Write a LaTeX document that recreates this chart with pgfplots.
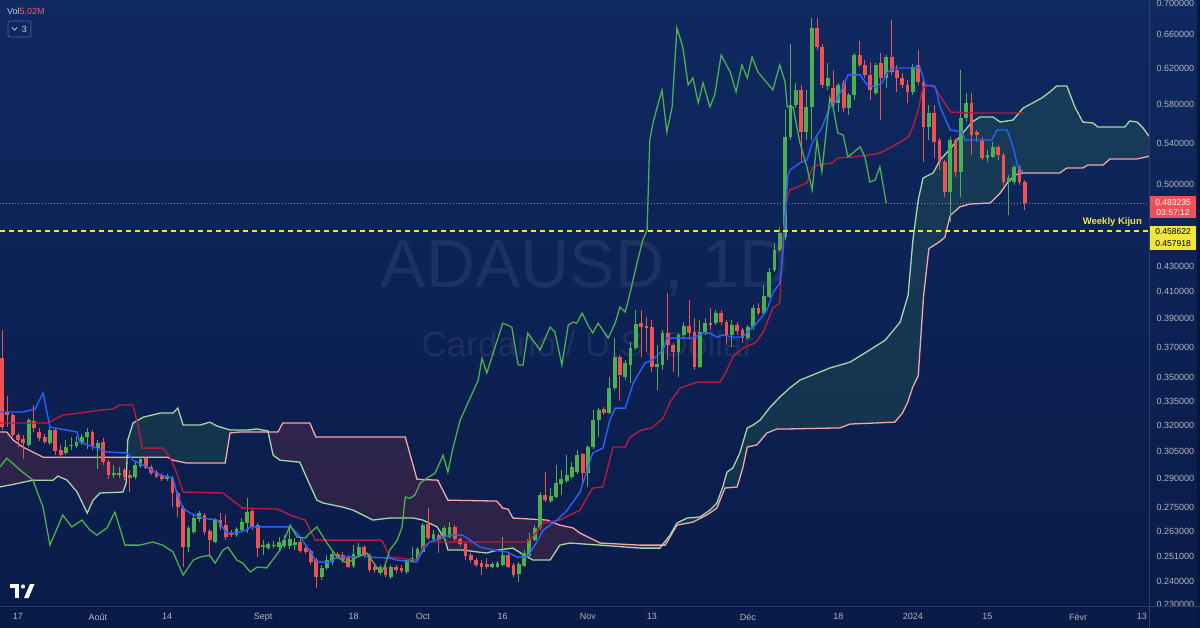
\documentclass[border=0pt]{standalone}
\usepackage{fontspec}
\setmainfont{Liberation Sans}
\usepackage{pgfplots}
\pgfplotsset{compat=1.18}
\usepackage{pgfplotstable}

\definecolor{bgtop}{RGB}{15,41,97}
\definecolor{bgbot}{RGB}{10,27,72}
\definecolor{cgreen}{RGB}{76,175,80}
\definecolor{cred}{RGB}{239,83,80}
\definecolor{tenkan}{RGB}{41,98,255}
\definecolor{kijun}{RGB}{183,28,60}
\definecolor{chikou}{RGB}{76,175,80}
\definecolor{spanA}{RGB}{165,214,167}
\definecolor{spanB}{RGB}{244,166,170}
\definecolor{cloudG}{RGB}{67,160,71}
\definecolor{cloudR}{RGB}{244,67,54}
\definecolor{ticktext}{RGB}{178,181,190}
\definecolor{wkyellow}{RGB}{242,230,60}
\definecolor{axisline}{RGB}{45,62,105}
\definecolor{pricedot}{RGB}{150,125,150}
\definecolor{labred}{RGB}{238,82,88}
\definecolor{volred}{RGB}{247,82,110}

\pgfplotstableread{
d o h l c
-3 .3627 .3820 .3175 .3192
-2 .3282 .3381 .3192 .3264
-1 .3264 .3276 .3134 .3146
0 .3146 .3157 .3076 .3116
1 .3122 .3146 .3008 .3099
2 .3088 .3245 .3076 .3233
3 .3227 .3325 .3163 .3187
4 .3163 .3187 .3110 .3128
5 .3134 .3151 .3093 .3105
6 .3099 .3187 .3088 .3175
7 .3175 .3187 .3030 .3053
8 .3059 .3088 .3013 .3030
9 .3042 .3116 .3030 .3076
10 .3082 .3134 .3059 .3088
11 .3082 .3140 .3070 .3105
12 .3099 .3151 .3088 .3134
13 .3134 .3187 .3065 .3163
14 .3163 .3175 .3059 .3076
15 .3070 .3116 .2953 .3099
16 .3105 .3128 .2975 .2991
17 .2991 .3002 .2898 .2920
18 .2920 .2975 .2904 .2931
19 .2920 .2964 .2904 .2931
20 .2948 .2959 .2893 .2909
21 .2920 .2948 .2830 .2904
22 .2909 .2991 .2898 .2975
23 .2970 .3019 .2959 .3008
24 .3013 .3019 .2953 .2959
25 .2964 .2975 .2920 .2931
26 .2937 .2948 .2904 .2909
27 .2920 .2931 .2888 .2898
28 .2898 .2926 .2888 .2915
29 .2904 .2915 .2752 .2825
30 .2825 .2836 .2702 .2752
31 .2747 .2757 .2463 .2556
32 .2556 .2658 .2533 .2648
33 .2628 .2712 .2618 .2697
34 .2692 .2732 .2677 .2722
35 .2712 .2722 .2613 .2628
36 .2633 .2643 .2509 .2589
37 .2580 .2697 .2575 .2687
38 .2687 .2722 .2638 .2653
39 .2662 .2712 .2589 .2604
40 .2618 .2638 .2604 .2613
41 .2613 .2653 .2604 .2643
42 .2638 .2697 .2628 .2677
43 .2672 .2798 .2623 .2727
44 .2732 .2742 .2638 .2653
45 .2662 .2672 .2509 .2551
46 .2556 .2589 .2518 .2565
47 .2551 .2580 .2542 .2570
48 .2561 .2584 .2551 .2565
49 .2556 .2604 .2542 .2580
50 .2561 .2613 .2551 .2589
51 .2561 .2648 .2547 .2594
52 .2565 .2599 .2542 .2580
53 .2580 .2599 .2528 .2537
54 .2551 .2561 .2523 .2533
55 .2537 .2547 .2472 .2486
56 .2495 .2504 .2370 .2418
57 .2418 .2472 .2404 .2459
58 .2459 .2518 .2450 .2495
59 .2486 .2542 .2472 .2523
60 .2523 .2533 .2500 .2509
61 .2518 .2533 .2481 .2495
62 .2509 .2518 .2459 .2463
63 .2468 .2565 .2459 .2523
64 .2518 .2575 .2509 .2556
65 .2556 .2565 .2504 .2514
66 .2518 .2528 .2441 .2450
67 .2463 .2472 .2436 .2450
68 .2436 .2472 .2427 .2463
69 .2463 .2472 .2418 .2427
70 .2418 .2472 .2409 .2463
71 .2463 .2472 .2436 .2450
72 .2459 .2472 .2436 .2445
73 .2441 .2504 .2431 .2495
74 .2486 .2556 .2481 .2504
75 .2495 .2556 .2486 .2547
76 .2533 .2672 .2528 .2662
77 .2667 .2747 .2589 .2599
78 .2594 .2638 .2584 .2618
79 .2613 .2623 .2528 .2589
80 .2604 .2658 .2589 .2648
81 .2604 .2677 .2599 .2653
82 .2653 .2662 .2580 .2594
83 .2594 .2604 .2561 .2570
84 .2570 .2580 .2495 .2514
85 .2518 .2528 .2481 .2495
86 .2495 .2504 .2463 .2472
87 .2481 .2495 .2427 .2463
88 .2477 .2504 .2454 .2463
89 .2463 .2486 .2459 .2477
90 .2463 .2490 .2459 .2481
91 .2472 .2604 .2468 .2518
92 .2518 .2528 .2459 .2463
93 .2472 .2481 .2418 .2427
94 .2431 .2486 .2395 .2477
95 .2468 .2542 .2463 .2528
96 .2514 .2623 .2509 .2594
97 .2589 .2662 .2584 .2648
98 .2648 .2830 .2638 .2814
99 .2814 .2937 .2778 .2788
100 .2783 .2851 .2773 .2809
101 .2804 .2975 .2798 .2877
102 .2872 .2948 .2814 .2898
103 .2888 .3030 .2877 .2920
104 .2909 .2991 .2898 .2964
105 .2937 .3059 .2926 .3030
106 .3036 .3042 .2877 .2931
107 .2931 .3088 .2857 .3076
108 .3076 .3294 .3065 .3233
109 .3233 .3306 .3134 .3294
110 .3300 .3312 .3264 .3276
111 .3276 .3502 .3270 .3432
112 .3432 .3764 .3419 .3634
113 .3634 .3647 .3349 .3515
114 .3502 .3613 .3482 .3594
115 .3581 .3736 .3463 .3696
116 .3696 .3965 .3682 .3863
117 .3870 .3965 .3634 .3842
118 .3849 .3913 .3668 .3835
119 .3842 .3891 .3535 .3568
120 .3568 .3716 .3419 .3587
121 .3581 .3820 .3548 .3799
122 .3799 .4091 .3613 .3716
123 .3716 .3730 .3535 .3668
124 .3668 .3799 .3502 .3785
125 .3785 .3877 .3764 .3849
126 .3849 .4038 .3750 .3799
127 .3806 .3906 .3548 .3568
128 .3568 .3891 .3561 .3806
129 .3806 .3906 .3785 .3870
130 .3870 .3980 .3820 .3856
131 .3870 .3965 .3856 .3943
132 .3943 .3965 .3856 .3877
133 .3877 .3891 .3716 .3785
134 .3785 .3891 .3702 .3856
135 .3856 .3877 .3785 .3813
136 .3820 .3835 .3730 .3764
137 .3764 .3856 .3750 .3842
138 .3842 .4001 .3820 .3980
139 .3980 .4016 .3928 .3943
140 .3943 .4152 .3928 .4068
141 .4061 .4285 .4053 .4253
142 .4269 .4488 .4253 .4430
143 .4430 .4623 .4414 .4572
144 .4538 .5742 .4513 .5461
145 .5461 .6489 .5431 .5796
146 .5796 .6036 .5763 .5958
147 .5958 .6014 .5215 .5513
148 .5513 .5958 .5431 .5774
149 .5774 .6808 .5431 .6684
150 .6684 .6808 .6416 .6452
151 .6452 .6489 .5980 .6014
152 .6003 .6264 .5958 .6093
153 .5980 .6183 .5763 .5796
154 .5817 .6036 .5721 .6014
155 .6036 .6070 .5721 .5763
156 .5763 .5925 .5689 .5904
157 .5904 .6381 .5849 .6357
158 .6357 .6525 .6218 .6241
159 .6241 .6299 .6093 .6127
160 .6127 .6276 .5849 .5958
161 .5925 .6264 .5904 .6241
162 .6264 .6381 .5636 .6093
163 .6093 .6357 .5980 .6334
164 .6334 .6783 .6127 .6160
165 .6183 .6241 .5936 .6093
166 .6093 .6149 .5980 .6014
167 .6014 .6070 .5817 .5936
168 .5936 .6253 .5904 .6218
169 .6241 .6416 .6014 .6048
170 .6048 .6093 .5215 .5564
171 .5564 .5796 .5431 .5710
172 .5710 .5796 .5254 .5411
173 .5431 .5451 .5138 .5215
174 .5215 .5234 .4888 .4933
175 .4933 .5461 .4666 .5431
176 .5431 .5451 .5072 .5119
177 .5119 .6183 .4888 .5657
178 .5657 .5925 .5615 .5817
179 .5817 .5925 .5283 .5482
180 .5513 .5533 .5411 .5482
181 .5431 .5461 .5234 .5254
182 .5254 .5332 .5215 .5283
183 .5263 .5411 .5254 .5362
184 .5362 .5382 .5234 .5283
185 .5283 .5303 .4997 .5025
186 .5025 .5091 .4727 .5062
187 .5025 .5186 .4997 .5167
188 .5167 .5186 .4997 .5025
189 .5025 .5043 .4771 .4832
}\candles

\pgfplotstableread{
d p
-3.4 .3282
0.9 .3282
3.2 .3300
4.7 .3400
6.0 .3192
11.1 .3163
11.6 .3105
14.8 .3070
16.7 .3048
20.5 .3042
21.6 .3002
24.2 .2964
26.7 .2920
29.1 .2904
29.8 .2825
31.0 .2747
32.3 .2722
34.7 .2697
37.4 .2687
39.2 .2623
41.1 .2623
43.0 .2638
43.6 .2653
51.1 .2653
52.4 .2623
54.3 .2556
56.1 .2486
58.6 .2486
59.9 .2509
63.6 .2509
64.8 .2518
66.1 .2509
69.8 .2504
71.1 .2495
74.9 .2486
76.0 .2542
77.3 .2580
81.1 .2613
83.5 .2613
85.4 .2580
86.7 .2556
89.2 .2542
91.8 .2533
93.7 .2509
95.6 .2509
97.4 .2580
98.6 .2638
101.2 .2687
103.1 .2737
105.5 .2830
107.9 .3042
109.8 .3070
111.1 .3233
112.1 .3306
114.0 .3306
115.5 .3463
117.7 .3594
119.0 .3613
120.1 .3647
121.1 .3682
121.8 .3764
126.7 .3764
128.6 .3799
129.9 .3799
131.2 .3771
132.3 .3785
134.2 .3771
135.9 .3771
137.0 .3806
138.7 .3870
140.6 .3965
141.7 .4091
143.0 .4167
143.6 .4406
144.5 .5072
144.9 .5138
146.8 .5205
148.1 .5234
149.1 .5401
150.9 .5554
152.4 .5774
153.7 .5849
154.9 .5992
155.8 .6127
158.1 .6127
159.4 .6014
160.9 .5992
162.2 .6036
163.1 .6149
164.3 .6206
168.4 .6206
169.3 .6218
170.3 .6014
172.2 .5992
173.1 .5774
175.0 .5533
177.2 .5513
177.8 .5431
182.8 .5431
183.8 .5533
185.7 .5533
186.8 .5362
187.7 .5167
188.9 .5110
}\tenkanT

\pgfplotstableread{
d p
-3.4 .3216
5.4 .3216
6.6 .3233
8.4 .3264
11.6 .3276
15.4 .3294
17.8 .3300
19.1 .3325
21.6 .3325
22.5 .3204
23.3 .3070
27.2 .3070
28.5 .3019
29.8 .2931
31.0 .2830
38.5 .2825
40.2 .2788
42.2 .2747
48.8 .2742
51.1 .2712
53.9 .2687
55.8 .2589
68.0 .2589
68.5 .2580
69.8 .2509
74.9 .2495
76.0 .2556
77.3 .2580
95.6 .2580
97.4 .2628
98.6 .2672
101.7 .2687
103.6 .2712
105.5 .2737
107.4 .2830
107.9 .2851
109.8 .2857
111.7 .3076
114.0 .3076
114.9 .3134
117.1 .3175
119.0 .3187
121.1 .3245
122.4 .3343
124.3 .3432
127.5 .3469
131.8 .3469
133.1 .3548
134.2 .3634
136.1 .3696
137.4 .3716
138.4 .3730
139.9 .3806
141.7 .3980
143.0 .4016
143.6 .4538
144.4 .4888
144.9 .4951
148.1 .5015
149.1 .5157
150.2 .5186
152.8 .5205
153.9 .5254
156.8 .5263
159.9 .5283
161.8 .5303
163.7 .5352
165.6 .5411
167.1 .5461
168.0 .5564
169.0 .5742
169.9 .5992
171.8 .6014
175.0 .5721
178.2 .5710
188.9 .5710
}\kijunT

\pgfplotstableread{
d p
-3.4 .2964
-2.1 .3013
0.4 .2948
2.8 .2893
4.7 .2752
6.0 .2565
8.4 .2712
10.1 .2653
12.0 .2687
13.5 .2638
14.8 .2613
16.7 .2648
18.2 .2727
20.1 .2565
22.9 .2565
25.3 .2580
27.2 .2565
29.1 .2533
31.0 .2427
32.9 .2495
34.2 .2509
36.0 .2518
37.0 .2481
38.5 .2542
39.4 .2556
41.1 .2495
42.2 .2481
43.6 .2441
44.9 .2463
46.7 .2459
49.2 .2542
50.5 .2623
51.1 .2662
52.4 .2604
53.9 .2599
54.8 .2623
56.1 .2653
58.0 .2575
59.9 .2509
61.8 .2481
63.6 .2509
65.5 .2528
67.4 .2459
68.3 .2441
68.9 .2472
69.8 .2542
71.2 .2589
72.1 .2653
72.7 .2804
73.6 .2798
74.5 .2814
75.5 .2877
76.8 .2904
78.3 .2931
79.8 .3030
80.7 .2937
81.7 .3076
83.0 .3233
86.4 .3482
87.1 .3627
88.0 .3528
89.2 .3661
91.0 .3870
92.7 .3842
93.9 .3581
94.8 .3581
95.7 .3799
98.0 .3682
99.9 .3842
100.8 .3806
102.1 .3581
103.3 .3856
104.2 .3877
104.9 .3870
105.9 .3943
107.0 .3856
107.9 .3799
108.9 .3870
110.8 .3764
112.1 .3870
113.0 .3987
114.0 .3950
114.9 .4091
116.2 .4325
117.3 .4513
118.1 .4598
118.6 .5431
119.2 .5605
120.0 .5774
120.9 .5958
121.8 .5513
122.8 .5774
123.7 .6684
124.8 .6452
125.8 .6014
126.7 .6093
127.7 .5817
128.6 .6036
129.9 .5774
130.8 .5904
132.0 .6357
133.7 .6160
134.8 .5936
135.9 .6241
136.9 .6093
137.8 .6334
138.9 .6160
141.7 .5958
143.0 .6241
144.0 .6048
144.4 .5774
145.5 .5774
146.8 .5401
148.1 .5167
149.1 .4951
150.0 .5431
150.9 .5119
152.4 .5871
153.0 .5774
153.9 .5503
154.9 .5482
155.8 .5263
158.1 .5362
159.0 .5263
159.9 .5025
160.9 .5043
161.8 .5167
163.0 .4832
}\chikouT

\pgfplotstableread{
d p
-3.4 .2857
-1.5 .2867
2.8 .2893
6.6 .2893
7.5 .2915
9.2 .2893
11.1 .2830
13.0 .2722
14.1 .2788
15.4 .2825
19.7 .2830
20.3 .2877
20.6 .3116
21.6 .3216
23.5 .3251
26.7 .3276
29.1 .3276
30.0 .3306
31.0 .3204
34.2 .3204
36.0 .3221
37.4 .3198
39.8 .3175
43.2 .3175
44.9 .3181
45.8 .3175
46.9 .3170
47.9 .3030
49.2 .3002
52.9 .2991
54.4 .2893
56.1 .2788
57.3 .2773
61.0 .2752
62.9 .2737
65.5 .2702
66.6 .2687
69.8 .2697
74.2 .2697
76.0 .2687
78.7 .2653
80.2 .2589
80.7 .2542
83.5 .2542
86.2 .2533
88.0 .2528
90.1 .2542
92.9 .2551
95.6 .2509
96.7 .2495
99.9 .2495
101.7 .2565
103.6 .2575
109.3 .2565
116.8 .2551
120.5 .2551
122.4 .2613
123.7 .2672
125.6 .2697
128.0 .2702
129.9 .2737
131.2 .2773
132.3 .2857
133.1 .2937
134.2 .2959
135.5 .3042
136.9 .3187
138.0 .3204
139.3 .3233
141.2 .3312
143.0 .3374
144.9 .3432
146.8 .3482
152.4 .3561
156.2 .3600
159.9 .3682
162.8 .3750
165.6 .3877
167.1 .4076
168.0 .4513
169.0 .4860
169.9 .5062
171.8 .5110
173.1 .5234
175.0 .5342
177.2 .5492
179.1 .5615
180.6 .5668
183.0 .5668
184.4 .5615
186.8 .5636
188.7 .5763
190.5 .5817
192.2 .5871
193.7 .5936
195.0 .6003
196.9 .6003
198.4 .5774
199.9 .5615
201.8 .5605
202.7 .5564
207.8 .5564
208.7 .5626
210.1 .5615
211.2 .5554
212.3 .5470
}\spanAT

\pgfplotstableread{
d p
-3.4 .3163
-2.1 .3163
-0.9 .3116
0.9 .3076
4.7 .3019
28.0 .3019
29.1 .3002
31.7 .2986
38.9 .2986
39.8 .3157
41.7 .3163
48.8 .3163
49.7 .3216
54.8 .3216
55.9 .3134
72.7 .3134
74.9 .2898
78.8 .2893
80.7 .2788
89.9 .2783
91.0 .2747
92.0 .2742
92.9 .2697
99.3 .2687
101.7 .2662
104.2 .2648
105.5 .2623
109.3 .2575
116.8 .2565
121.5 .2565
123.7 .2662
126.7 .2677
129.3 .2712
131.2 .2747
132.7 .2851
135.0 .2857
136.1 .2964
136.9 .3076
138.7 .3088
140.6 .3157
142.5 .3181
144.9 .3181
154.3 .3187
156.2 .3210
164.6 .3221
166.0 .3274
167.0 .3340
168.0 .3440
169.0 .3510
170.0 .4069
171.0 .4442
173.0 .4499
174.0 .4536
175.0 .4723
176.8 .4798
178.7 .4824
182.5 .4833
184.4 .4924
185.7 .5015
187.2 .5091
188.7 .5110
195.6 .5110
196.9 .5157
199.9 .5157
200.9 .5186
203.7 .5186
205.0 .5244
210.1 .5244
212.3 .5270
}\spanBT

% build candle wick/body coordinate lists from the OHLC table
\gdef\wickG{}\gdef\wickR{}\gdef\bodyG{}\gdef\bodyR{}
\pgfplotstablegetrowsof{\candles}
\pgfmathtruncatemacro\lastrow{\pgfplotsretval-1}
\foreach \i in {0,...,\lastrow}{%
  \pgfplotstablegetelem{\i}{d}\of\candles\let\cD\pgfplotsretval
  \pgfplotstablegetelem{\i}{o}\of\candles\let\cO\pgfplotsretval
  \pgfplotstablegetelem{\i}{h}\of\candles\let\cH\pgfplotsretval
  \pgfplotstablegetelem{\i}{l}\of\candles\let\cL\pgfplotsretval
  \pgfplotstablegetelem{\i}{c}\of\candles\let\cC\pgfplotsretval
  \pgfmathtruncatemacro\up{\cC>=\cO ? 1 : 0}%
  \ifnum\up=1
    \xdef\wickG{\wickG (\cD,\cL) (\cD,\cH) (\cD,nan)}%
    \xdef\bodyG{\bodyG (\cD,\cO) (\cD,\cC) (\cD,nan)}%
  \else
    \xdef\wickR{\wickR (\cD,\cL) (\cD,\cH) (\cD,nan)}%
    \xdef\bodyR{\bodyR (\cD,\cO) (\cD,\cC) (\cD,nan)}%
  \fi
}

\begin{document}
\begin{tikzpicture}
\shade[top color=bgtop, bottom color=bgbot] (0pt,0pt) rectangle (1200pt,627pt);
\fill[bgbot!80!black] (1197pt,0pt) rectangle (1200pt,627pt);
\begin{scope}[x=1pt,y=1pt]
  \node[text=white, text opacity=0.07, font=\fontsize{68}{70}\selectfont, inner sep=0pt] at (585,359) {ADAUSD, 1D};
  \node[text=white, text opacity=0.07, font=\fontsize{35}{38}\selectfont, inner sep=0pt] at (588,283) {Cardano / U.S. Dollar};
\end{scope}
\begin{axis}[
  at={(0pt,20pt)}, anchor=south west,
  scale only axis, width=1149pt, height=607pt,
  xmin=-3.379, xmax=212.32,
  ymode=log, ymin=0.22874, ymax=0.7039,
  axis line style={draw=none},
  tick style={draw=none},
  major tick length=0pt,
  xtick={0,15,28,46,63,76,91,107,119,137,154,168,182,199,211},
  xticklabels={17,Août,14,Sept,18,Oct,16,Nov,13,Déc,18,2024,15,Févr,13},
  ytick={0.23,0.24,0.251,0.263,0.275,0.29,0.305,0.32,0.335,0.35,0.37,0.39,0.41,0.43,0.50,0.54,0.58,0.62,0.66,0.70},
  yticklabels={0.230000,0.240000,0.251000,0.263000,0.275000,0.290000,0.305000,0.320000,0.335000,0.350000,0.370000,0.390000,0.410000,0.430000,0.500000,0.540000,0.580000,0.620000,0.660000,0.700000},
  yticklabel pos=right,
  ticklabel style={font=\fontsize{9}{11}\selectfont, text=ticktext},
  yticklabel style={anchor=west, xshift=4pt},
  xticklabel style={anchor=north, yshift=-3pt},
  /pgf/number format/assume math mode=true,
]
% Ichimoku cloud: areas between Senkou A and Senkou B (bearish red, bullish green)
\addplot[fill=cloudR, fill opacity=0.15, draw=none] coordinates {
(-3.4,.2857) (-1.5,.2867) (2.8,.2893) (6.6,.2893) (7.5,.2915) (9.2,.2893) (11.1,.2830) (13.0,.2722) (14.1,.2788) (15.4,.2825) (19.7,.2830) (20.3,.2877) (20.48,.3019) (4.7,.3019) (0.9,.3076) (-0.9,.3116) (-2.1,.3163) (-3.4,.3163)};
\addplot[fill=cloudG, fill opacity=0.17, draw=none] coordinates {
(20.48,.3019) (20.6,.3116) (21.6,.3216) (23.5,.3251) (26.7,.3276) (29.1,.3276) (30.0,.3306) (31.0,.3204) (34.2,.3204) (36.0,.3221) (37.4,.3198) (39.8,.3175) (43.2,.3175) (44.9,.3181) (45.8,.3175) (46.9,.3170) (46.95,.3163) (41.7,.3163) (39.8,.3157) (38.9,.2986) (31.7,.2986) (29.1,.3002) (28.0,.3019)};
\addplot[fill=cloudR, fill opacity=0.15, draw=none] coordinates {
(46.95,.3163) (48.8,.3163) (49.7,.3216) (54.8,.3216) (55.9,.3134) (72.7,.3134) (74.9,.2898) (78.8,.2893) (80.7,.2788) (89.9,.2783) (91.0,.2747) (92.0,.2742) (92.9,.2697) (99.3,.2687) (101.7,.2662) (104.2,.2648) (105.5,.2623) (109.3,.2575) (116.8,.2565) (120.93,.2565) (120.5,.2551) (116.8,.2551) (109.3,.2565) (103.6,.2575) (101.7,.2565) (99.9,.2495) (96.7,.2495) (95.6,.2509) (92.9,.2551) (90.1,.2542) (88.0,.2528) (86.2,.2533) (83.5,.2542) (80.7,.2542) (80.2,.2589) (78.7,.2653) (76.0,.2687) (74.2,.2697) (69.8,.2697) (66.6,.2687) (65.5,.2702) (62.9,.2737) (61.0,.2752) (57.3,.2773) (56.1,.2788) (54.4,.2893) (52.9,.2991) (49.2,.3002) (47.9,.3030)};
\addplot[fill=cloudG, fill opacity=0.17, draw=none] coordinates {
(120.93,.2565) (122.4,.2613) (123.7,.2672) (125.6,.2697) (128.0,.2702) (129.9,.2737) (131.2,.2773) (132.3,.2857) (133.1,.2937) (134.2,.2959) (135.5,.3042) (136.9,.3187) (138.0,.3204) (139.3,.3233) (141.2,.3312) (143.0,.3374) (144.9,.3432) (146.8,.3482) (152.4,.3561) (156.2,.3600) (159.9,.3682) (162.8,.3750) (165.6,.3877) (167.1,.4076) (168.0,.4513) (169.0,.4860) (169.9,.5062) (171.8,.5110) (173.1,.5234) (175.0,.5342) (177.2,.5492) (179.1,.5615) (180.6,.5668) (183.0,.5668) (184.4,.5615) (186.8,.5636) (188.7,.5763) (190.5,.5817) (192.2,.5871) (193.7,.5936) (195.0,.6003) (196.9,.6003) (198.4,.5774) (199.9,.5615) (201.8,.5605) (202.7,.5564) (207.8,.5564) (208.7,.5626) (210.1,.5615) (211.2,.5554) (212.3,.5470)
(212.3,.5270) (210.1,.5244) (205.0,.5244) (203.7,.5186) (200.9,.5186) (199.9,.5157) (196.9,.5157) (195.6,.5110) (188.7,.5110) (187.2,.5091) (185.7,.5015) (184.4,.4924) (182.5,.4833) (178.7,.4824) (176.8,.4798) (175.0,.4723) (174.0,.4536) (173.0,.4499) (171.0,.4442) (170.0,.4069) (169.0,.3510) (168.0,.3440) (167.0,.3340) (166.0,.3274) (164.6,.3221) (156.2,.3210) (154.3,.3187) (144.9,.3181) (142.5,.3181) (140.6,.3157) (138.7,.3088) (136.9,.3076) (136.1,.2964) (135.0,.2857) (132.7,.2851) (131.2,.2747) (129.3,.2712) (126.7,.2677) (123.7,.2662) (121.5,.2565)};
% current price dotted line
\addplot[pricedot, line width=0.8pt, dash pattern=on 1pt off 2pt] coordinates {(-3.379,0.483235) (212.32,0.483235)};
% senkou spans
\addplot[spanB, line width=1.3pt] table[x=d, y=p] {\spanBT};
\addplot[spanA, line width=1.3pt] table[x=d, y=p] {\spanAT};
% candles
\edef\tmp{\noexpand\addplot[cgreen, line width=1pt, unbounded coords=jump] coordinates {\wickG};}\tmp
\edef\tmp{\noexpand\addplot[cred, line width=1pt, unbounded coords=jump] coordinates {\wickR};}\tmp
\edef\tmp{\noexpand\addplot[cgreen, line width=3.8pt, unbounded coords=jump] coordinates {\bodyG};}\tmp
\edef\tmp{\noexpand\addplot[cred, line width=3.8pt, unbounded coords=jump] coordinates {\bodyR};}\tmp
% ichimoku lines
\addplot[kijun, line width=1.4pt] table[x=d, y=p] {\kijunT};
\addplot[tenkan, line width=1.4pt] table[x=d, y=p] {\tenkanT};
\addplot[chikou, line width=1.3pt] table[x=d, y=p] {\chikouT};
% weekly kijun
\addplot[wkyellow, line width=2pt, dash pattern=on 5pt off 4pt] coordinates {(-3.379,0.458622) (212.32,0.458622)};
\end{axis}
\begin{scope}[x=1pt,y=1pt]
  \draw[axisline, line width=1pt] (0,20.5) -- (1200,20.5);
  \draw[axisline, line width=1pt] (1149.5,0) -- (1149.5,627);
  % price label boxes
  \fill[labred] (1150,409) rectangle (1196,431);
  \node[text=white, font=\fontsize{8.5}{10}\selectfont, inner sep=0pt] at (1173,424.5) {0.483235};
  \node[text=white, font=\fontsize{8.5}{10}\selectfont, inner sep=0pt] at (1173,414.5) {03:57:12};
  \fill[wkyellow] (1150,377) rectangle (1196,401);
  \node[text=black, font=\fontsize{8.5}{10}\selectfont, inner sep=0pt] at (1173,395.5) {0.458622};
  \node[text=black, font=\fontsize{8.5}{10}\selectfont, inner sep=0pt] at (1173,383) {0.457918};
  \node[anchor=east, text=wkyellow, font=\bfseries\fontsize{9.5}{11}\selectfont, inner sep=0pt] at (1142,405) {Weekly Kijun};
  % top-left legend
  \node[anchor=base west, inner sep=0pt, font=\fontsize{9}{11}\selectfont] at (7,612) {\textcolor{ticktext!70!white}{Vol}\textcolor{volred}{5.02M}};
  \draw[axisline!80!white, line width=0.8pt, rounded corners=2pt] (8,590) rectangle (31,606);
  \draw[ticktext, line width=0.9pt] (12,599.5) -- (14.5,597) -- (17,599.5);
  \node[text=ticktext!70!white, font=\fontsize{9}{11}\selectfont, inner sep=0pt] at (24.5,598) {3};
  % logo
  \fill[white] (10,39) rectangle (19,43);
  \fill[white] (15,29) rectangle (19,43);
  \fill[white] (23,40.5) circle (2.1);
  \fill[white] (24,29) -- (28.5,29) -- (34.5,43) -- (30,43) -- cycle;
\end{scope}
\pgfresetboundingbox
\useasboundingbox (0pt,0pt) rectangle (1200pt,627pt);
\end{tikzpicture}
\end{document}
